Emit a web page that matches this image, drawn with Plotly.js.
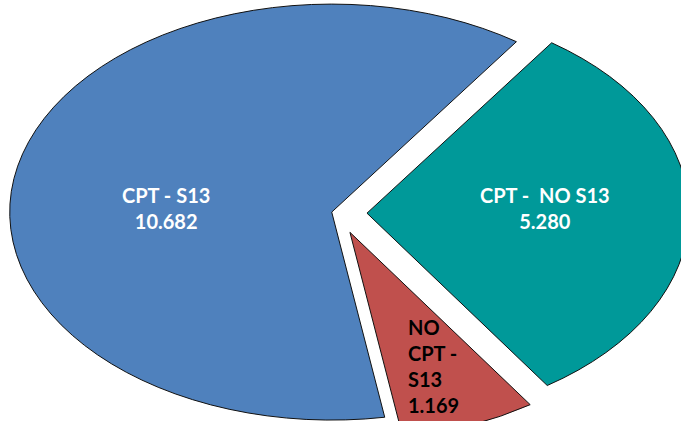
<!DOCTYPE html>
<html>
<head>
<meta charset="utf-8">
<script src="https://cdn.plot.ly/plotly-3.0.1.min.js"></script>
<style>
  html, body { margin: 0; padding: 0; background: #ffffff; overflow: hidden; }
  #chart { width: 681px; height: 421px; }
  .pielayer path { vector-effect: non-scaling-stroke; }
</style>
</head>
<body>
<div id="chart"></div>
<script>
// ---- data ----
const categories = ['CPT -  NO S13', 'NO CPT - S13', 'CPT - S13'];
const values = [5280, 1169, 10682];

// ---- styles ----
const sliceColors = ['#009999', '#C0504D', '#4F81BD'];
const labelColors = ['#FFFFFF', '#000000', '#FFFFFF'];
const pulls = [0.09, 0.1, 0.02];

function fmt(v) { return String(v).replace(/\B(?=(\d{3})+(?!\d))/g, '.'); }
function wrap(text, maxLen) {
  const words = text.split(/\s+/); const lines = []; let cur = '';
  words.forEach(w => {
    if (cur && (cur + ' ' + w).length > maxLen) { lines.push(cur); cur = w; }
    else { cur = cur ? cur + ' ' + w : w; }
  });
  if (cur) lines.push(cur);
  return lines.join('<br>');
}
function keepSpaces(t) { return t.replace(/  /g, ' \u00a0'); }

const W = 681, H = 421;
// label placement (pixels) and ellipse geometry
const labelPos = [
  { x: 545, y: 208, xanchor: 'center', align: 'center', wrapLen: 0 },
  { x: 406, y: 366, xanchor: 'left', align: 'left', wrapLen: 5 },
  { x: 166, y: 208, xanchor: 'center', align: 'center', wrapLen: 0 }
];
const ellipse = { cx: 338, cy: 213, a: 322, b: 208 };

const annotations = categories.map((c, i) => {
  const p = labelPos[i];
  const lab = p.wrapLen ? wrap(c, p.wrapLen) : keepSpaces(c);
  return {
    text: lab + '<br>' + fmt(values[i]),
    x: p.x / W, y: 1 - p.y / H, xref: 'paper', yref: 'paper',
    xanchor: p.xanchor, yanchor: 'middle', align: p.align,
    showarrow: false,
    font: { family: 'Lato, "Open Sans", sans-serif', size: 20, color: labelColors[i], weight: 700 }
  };
});

const trace = {
  type: 'pie',
  labels: categories,
  values: values,
  sort: false,
  direction: 'clockwise',
  rotation: 35,
  pull: pulls,
  marker: { colors: sliceColors, line: { color: '#111111', width: 1 } },
  textinfo: 'none',
  hoverinfo: 'none',
  showlegend: false
};

const layout = {
  width: W, height: H,
  margin: { l: 0, r: 0, t: 0, b: 0 },
  paper_bgcolor: '#ffffff',
  plot_bgcolor: '#ffffff',
  showlegend: false,
  annotations: annotations
};

Plotly.newPlot('chart', [trace], layout, { displayModeBar: false, staticPlot: true }).then(gd => {
  const cd0 = gd.calcdata[0][0];
  const layer = gd.querySelector('.pielayer');
  if (layer && cd0 && cd0.r) {
    const sx = ellipse.a / cd0.r, sy = ellipse.b / cd0.r;
    layer.setAttribute('transform',
      'translate(' + ellipse.cx + ',' + ellipse.cy + ') scale(' + sx + ',' + sy + ') translate(' + (-cd0.cx) + ',' + (-cd0.cy) + ')');
  }
});
</script>
</body>
</html>
